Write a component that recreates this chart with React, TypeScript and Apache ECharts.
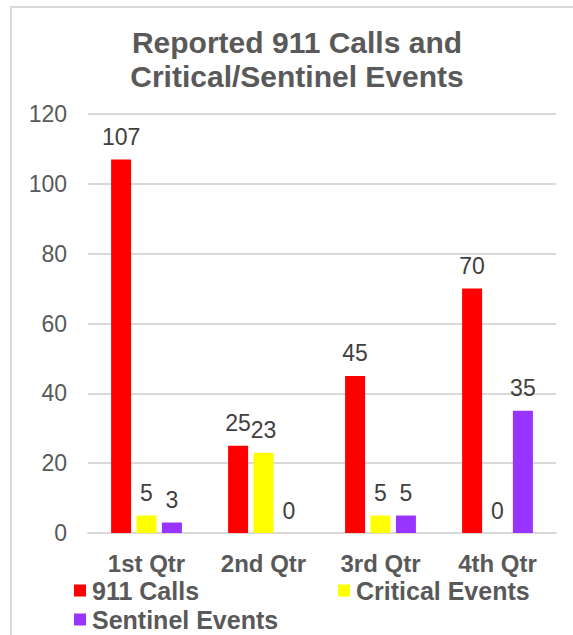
import React, { useEffect, useRef } from "react";
import * as echarts from "echarts";

const categories = ["1st Qtr", "2nd Qtr", "3rd Qtr", "4th Qtr"];
const calls911 = [107, 25, 45, 70];
const criticalEvents = [5, 23, 5, 0];
const sentinelEvents = [3, 0, 5, 35];
const seriesNames = ["911 Calls", "Critical Events", "Sentinel Events"];
const seriesColors = ["#FF0000", "#FFFF00", "#9933FF"];
const titleText = "Reported 911 Calls and\nCritical/Sentinel Events";

const FONT = "'Liberation Sans', Arial, sans-serif";
const GRAY = "#595959";

export default function App() {
  const ref = useRef<HTMLDivElement>(null);
  useEffect(() => {
    if (!ref.current) return;
    const chart = echarts.init(ref.current, undefined, { renderer: "svg" });
    const dataSets = [calls911, criticalEvents, sentinelEvents];
    const legendItem = (name: string, left: number, top: number) => ({
      data: [name],
      left,
      top,
      padding: 0,
      itemWidth: 12,
      itemHeight: 12,
      icon: "rect",
      textStyle: {
        fontFamily: FONT,
        fontSize: 25,
        fontWeight: "bold",
        color: GRAY,
        lineHeight: 20,
        padding: [0, 0, 0, 1],
      },
    });
    chart.setOption({
      animation: false,
      backgroundColor: "#ffffff",
      textStyle: { fontFamily: FONT },
      title: {
        text: titleText,
        left: 297,
        top: 25,
        padding: 0,
        textAlign: "center",
        textStyle: { fontFamily: FONT, fontSize: 30, fontWeight: "bold", color: GRAY, lineHeight: 34, align: "center" },
      },
      graphic: [
        {
          type: "rect",
          shape: { x: 11, y: 7, width: 620, height: 700 },
          style: { fill: "none", stroke: "#d9d9d9", lineWidth: 2 },
          silent: true,
        },
      ],
      legend: [
        legendItem(seriesNames[0], 74, 578),
        legendItem(seriesNames[1], 338, 578),
        legendItem(seriesNames[2], 74, 607),
      ],
      grid: { left: 88, right: 17, top: 114, bottom: 102, containLabel: false },
      xAxis: {
        type: "category",
        data: categories,
        axisLine: { show: true, lineStyle: { color: "#d9d9d9", width: 2 } },
        axisTick: { show: false },
        axisLabel: { fontFamily: FONT, fontSize: 24, fontWeight: "bold", color: GRAY, margin: 20, lineHeight: 20 },
      },
      yAxis: {
        type: "value",
        min: 0,
        max: 120,
        interval: 20,
        axisLine: { show: false },
        axisTick: { show: false },
        splitLine: { lineStyle: { color: "#d9d9d9", width: 2 } },
        axisLabel: { fontFamily: FONT, fontSize: 23, color: GRAY, margin: 21 },
      },
      series: seriesNames.map((name, i) => ({
        name,
        type: "bar",
        data: dataSets[i],
        barWidth: 20,
        barGap: "27%",
        itemStyle: { color: seriesColors[i] },
        label: {
          show: true,
          position: "top",
          distance: 11,
          fontFamily: FONT,
          fontSize: 23,
          color: "#404040",
        },
      })),
    });
    return () => chart.dispose();
  }, []);
  return <div ref={ref} style={{ position: "absolute", left: 0, top: 0, width: 573, height: 635 }} />;
}
